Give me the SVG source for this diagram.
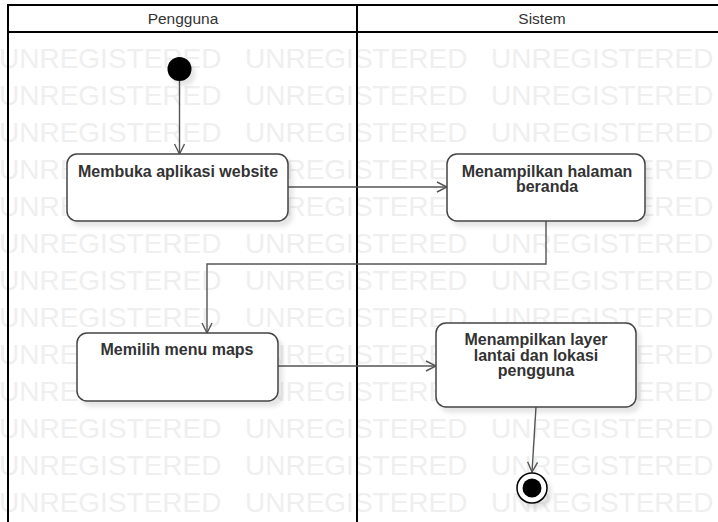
<svg xmlns="http://www.w3.org/2000/svg" width="718" height="522" viewBox="0 0 718 522">
  <style>
    .wm { font-family: "Liberation Sans", Arial, sans-serif; font-size: 28px; fill: #efefef; }
    .lane { fill: none; stroke: #000; stroke-width: 2; }
    .lane-title { font-family: "Liberation Sans", Arial, sans-serif; font-size: 15.5px; fill: #333; text-anchor: middle; }
    .act { fill: #fff; stroke: #444; stroke-width: 1.5; filter: url(#shadow); }
    .act-text { font-family: "Liberation Sans", Arial, sans-serif; font-size: 16px; font-weight: bold; fill: #333; text-anchor: middle; }
    .flow { fill: none; stroke: #555; stroke-width: 1.4; marker-end: url(#open-arrow); }
  </style>
  <defs>
    <filter id="shadow" x="-20%" y="-20%" width="150%" height="160%">
      <feDropShadow dx="4" dy="5" stdDeviation="2" flood-color="#000" flood-opacity="0.1"/>
    </filter>
    <marker id="open-arrow" markerUnits="userSpaceOnUse" markerWidth="12" markerHeight="12" refX="11" refY="6" orient="auto">
      <path d="M1,1 L11,6 L1,11" fill="none" stroke="#555" stroke-width="1.4"/>
    </marker>
  </defs>

  <rect width="718" height="522" fill="#fff"/>

  <!-- watermark rows -->
  <g id="watermark" class="wm">
    <text y="68"><tspan x="-1">UNREGISTERED</tspan><tspan x="245">UNREGISTERED</tspan><tspan x="491">UNREGISTERED</tspan></text>
    <text y="105"><tspan x="-1">UNREGISTERED</tspan><tspan x="245">UNREGISTERED</tspan><tspan x="491">UNREGISTERED</tspan></text>
    <text y="142"><tspan x="-1">UNREGISTERED</tspan><tspan x="245">UNREGISTERED</tspan><tspan x="491">UNREGISTERED</tspan></text>
    <text y="179"><tspan x="-1">UNREGISTERED</tspan><tspan x="245">UNREGISTERED</tspan><tspan x="491">UNREGISTERED</tspan></text>
    <text y="216"><tspan x="-1">UNREGISTERED</tspan><tspan x="245">UNREGISTERED</tspan><tspan x="491">UNREGISTERED</tspan></text>
    <text y="253"><tspan x="-1">UNREGISTERED</tspan><tspan x="245">UNREGISTERED</tspan><tspan x="491">UNREGISTERED</tspan></text>
    <text y="290"><tspan x="-1">UNREGISTERED</tspan><tspan x="245">UNREGISTERED</tspan><tspan x="491">UNREGISTERED</tspan></text>
    <text y="327"><tspan x="-1">UNREGISTERED</tspan><tspan x="245">UNREGISTERED</tspan><tspan x="491">UNREGISTERED</tspan></text>
    <text y="364"><tspan x="-1">UNREGISTERED</tspan><tspan x="245">UNREGISTERED</tspan><tspan x="491">UNREGISTERED</tspan></text>
    <text y="401"><tspan x="-1">UNREGISTERED</tspan><tspan x="245">UNREGISTERED</tspan><tspan x="491">UNREGISTERED</tspan></text>
    <text y="438"><tspan x="-1">UNREGISTERED</tspan><tspan x="245">UNREGISTERED</tspan><tspan x="491">UNREGISTERED</tspan></text>
    <text y="475"><tspan x="-1">UNREGISTERED</tspan><tspan x="245">UNREGISTERED</tspan><tspan x="491">UNREGISTERED</tspan></text>
    <text y="512"><tspan x="-1">UNREGISTERED</tspan><tspan x="245">UNREGISTERED</tspan><tspan x="491">UNREGISTERED</tspan></text>
  </g>

  <!-- swimlanes -->
  <g id="lanes">
    <rect x="8" y="5" width="720" height="27" fill="#fff"/>
    <path class="lane" d="M8,522 V5 H728 M8,32 H728 M357,5 V522"/>
    <text class="lane-title" x="183" y="24">Pengguna</text>
    <text class="lane-title" x="542" y="24">Sistem</text>
  </g>

  <!-- control flows -->
  <g id="connectors">
    <path class="flow" d="M179.5,81 V154"/>
    <path class="flow" d="M288,187 H447"/>
    <path class="flow" d="M546,221 V264 H207 V333"/>
    <path class="flow" d="M278,366 H436"/>
    <path class="flow" d="M536,407 L532,472"/>
  </g>

  <g id="start">
    <circle cx="179.5" cy="69" r="12" fill="#000" filter="url(#shadow)"/>
  </g>

  <g id="membuka-aplikasi">
    <rect class="act" x="67" y="154" width="221" height="67" rx="10"/>
    <text class="act-text" x="178" y="177">Membuka aplikasi website</text>
  </g>

  <g id="menampilkan-beranda">
    <rect class="act" x="447" y="154" width="198" height="67" rx="10"/>
    <text class="act-text" x="547" y="177">Menampilkan halaman</text>
    <text class="act-text" x="547" y="192">beranda</text>
  </g>

  <g id="memilih-maps">
    <rect class="act" x="77" y="333" width="201" height="68" rx="10"/>
    <text class="act-text" x="177" y="355">Memilih menu maps</text>
  </g>

  <g id="menampilkan-layer">
    <rect class="act" x="436" y="323" width="200" height="84" rx="10"/>
    <text class="act-text" x="536" y="345">Menampilkan layer</text>
    <text class="act-text" x="536" y="361">lantai dan lokasi</text>
    <text class="act-text" x="536" y="376">pengguna</text>
  </g>

  <g id="end">
    <circle cx="532" cy="488" r="15" fill="#fff" stroke="#000" stroke-width="1.5" filter="url(#shadow)"/>
    <circle cx="532" cy="488" r="9.5" fill="#000"/>
  </g>
</svg>
